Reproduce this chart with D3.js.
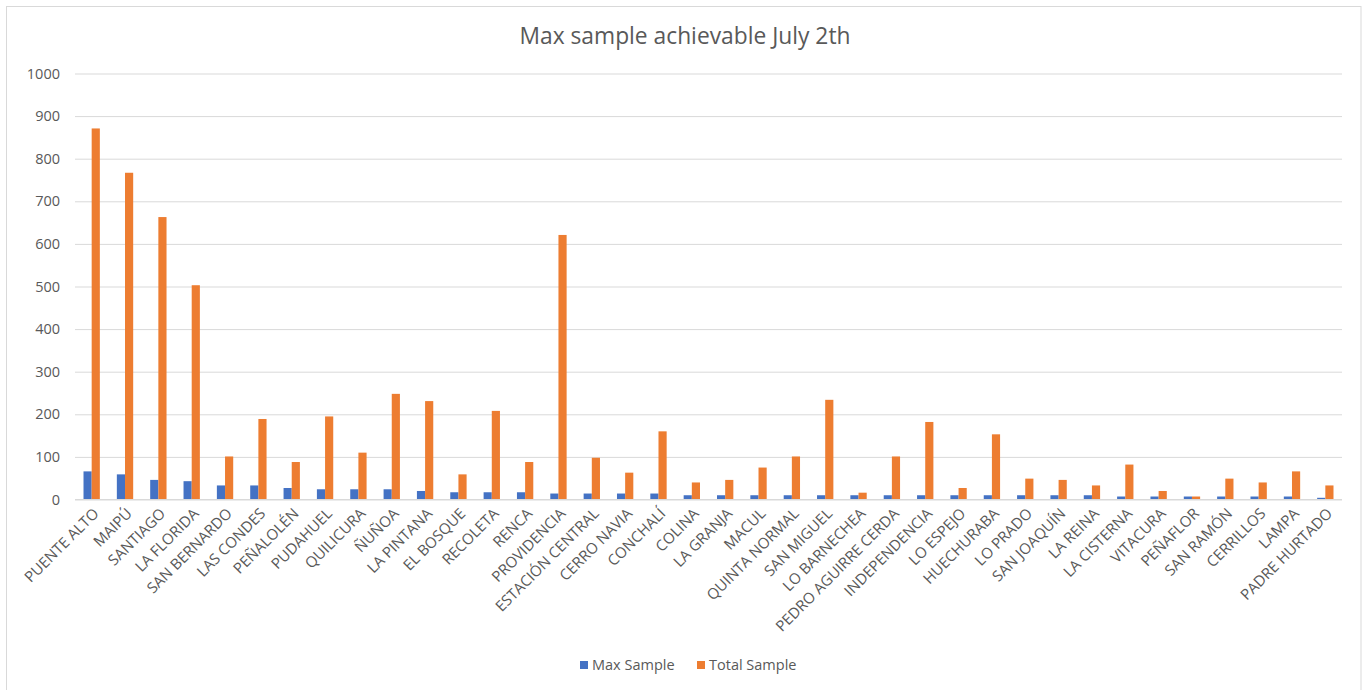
<!DOCTYPE html>
<html>
<head>
<meta charset="utf-8">
<script src="https://cdn.jsdelivr.net/npm/d3@7"></script>
<style>
  html, body { margin: 0; padding: 0; background: #fff; }
  svg { display: block; font-family: "Open Sans", Lato, sans-serif; }
</style>
</head>
<body>
<svg id="chart" width="1365" height="690"></svg>
<script>
// Communes of Santiago
const communes = [
  "PUENTE ALTO", "MAIPÚ", "SANTIAGO", "LA FLORIDA", "SAN BERNARDO", "LAS CONDES",
  "PEÑALOLÉN", "PUDAHUEL", "QUILICURA", "ÑUÑOA", "LA PINTANA", "EL BOSQUE",
  "RECOLETA", "RENCA", "PROVIDENCIA", "ESTACIÓN CENTRAL", "CERRO NAVIA", "CONCHALÍ",
  "COLINA", "LA GRANJA", "MACUL", "QUINTA NORMAL", "SAN MIGUEL", "LO BARNECHEA",
  "PEDRO AGUIRRE CERDA", "INDEPENDENCIA", "LO ESPEJO", "HUECHURABA", "LO PRADO",
  "SAN JOAQUÍN", "LA REINA", "LA CISTERNA", "VITACURA", "PEÑAFLOR", "SAN RAMÓN",
  "CERRILLOS", "LAMPA", "PADRE HURTADO"
];

const maxSample = [
  66, 59, 46, 43, 33, 33, 27, 24, 24, 24, 20, 17,
  17, 17, 14, 14, 14, 14, 10, 10, 10, 10, 10, 10,
  10, 10, 10, 10, 10, 10, 10, 7, 7, 7, 7, 7, 7, 4
];

const totalSample = [
  871, 767, 663, 503, 101, 189, 88, 195, 110, 248, 231, 59,
  208, 88, 621, 98, 63, 160, 40, 46, 75, 101, 234, 16,
  101, 182, 27, 153, 49, 46, 33, 82, 20, 7, 49, 40, 66, 33
];

const seriesNames = ["Max Sample", "Total Sample"];
const seriesColors = ["#4472C4", "#ED7D31"];
const yTicks = [0, 100, 200, 300, 400, 500, 600, 700, 800, 900, 1000];

const svg = d3.select("#chart");
const textColor = "#595959";

// outer frame
svg.append("rect")
  .attr("x", 6.5).attr("y", 6.5)
  .attr("width", 1354.5).attr("height", 700)
  .attr("fill", "#fff").attr("stroke", "#d9d9d9").attr("stroke-width", 1);

const plot = { left: 75, right: 1342, top: 73.5, bottom: 499.5 };

const x0 = d3.scaleBand()
  .domain(communes)
  .range([plot.left, plot.right])
  .paddingInner(0.51)
  .paddingOuter(0.255);

const x1 = d3.scaleBand()
  .domain(seriesNames)
  .range([0, x0.bandwidth()]);

const y = d3.scaleLinear()
  .domain([0, 1000])
  .range([plot.bottom, plot.top]);

// title
svg.append("text")
  .attr("x", 685).attr("y", 44)
  .attr("text-anchor", "middle")
  .attr("fill", textColor)
  .attr("font-size", 22.8)
  .text("Max sample achievable July 2th");

// gridlines
const yAxis = d3.axisLeft(y)
  .tickValues(yTicks)
  .tickSize(-(plot.right - plot.left))
  .tickPadding(15)
  .tickFormat(d3.format("d"));

const gy = svg.append("g")
  .attr("transform", `translate(${plot.left},0)`)
  .call(yAxis);
gy.select(".domain").remove();
gy.selectAll(".tick line").attr("stroke", "#d9d9d9").attr("stroke-width", 1);
gy.selectAll(".tick text")
  .attr("fill", textColor)
  .attr("font-size", 14.5)
  .attr("font-family", "'Open Sans', Lato, sans-serif");

// bars
const rows = communes.map((c, i) => ({ c, values: [maxSample[i], totalSample[i]] }));

const groups = svg.append("g")
  .selectAll("g")
  .data(rows)
  .join("g")
  .attr("transform", d => `translate(${x0(d.c)},0)`);

groups.selectAll("rect")
  .data(d => d.values.map((v, k) => ({ key: seriesNames[k], v, k })))
  .join("rect")
  .attr("x", d => x1(d.key))
  .attr("width", x1.bandwidth())
  .attr("y", d => y(d.v))
  .attr("height", d => y(0) - y(d.v))
  .attr("fill", d => seriesColors[d.k]);

// category axis
const xAxis = d3.axisBottom(x0).tickSize(0).tickPadding(0);
const gx = svg.append("g")
  .attr("transform", `translate(0,${plot.bottom})`)
  .call(xAxis);
gx.select(".domain").attr("stroke", "#d9d9d9").attr("d", `M${plot.left},0H${plot.right}`);
gx.selectAll(".tick text")
  .attr("fill", textColor)
  .attr("font-size", 15)
  .attr("font-family", "'Open Sans', Lato, sans-serif")
  .attr("text-anchor", "end")
  .attr("dy", null)
  .attr("y", 0)
  .attr("transform", "translate(8,15) rotate(-45)");

// legend
const legend = svg.append("g").attr("transform", "translate(580,665)");
const legendX = [0, 117];
seriesNames.forEach((name, k) => {
  const g = legend.append("g").attr("transform", `translate(${legendX[k]},0)`);
  g.append("rect").attr("x", 0).attr("y", -4).attr("width", 8).attr("height", 8)
    .attr("fill", seriesColors[k]);
  g.append("text").attr("x", 12).attr("y", 5)
    .attr("fill", textColor).attr("font-size", 14.5)
    .text(name);
});
</script>
</body>
</html>
